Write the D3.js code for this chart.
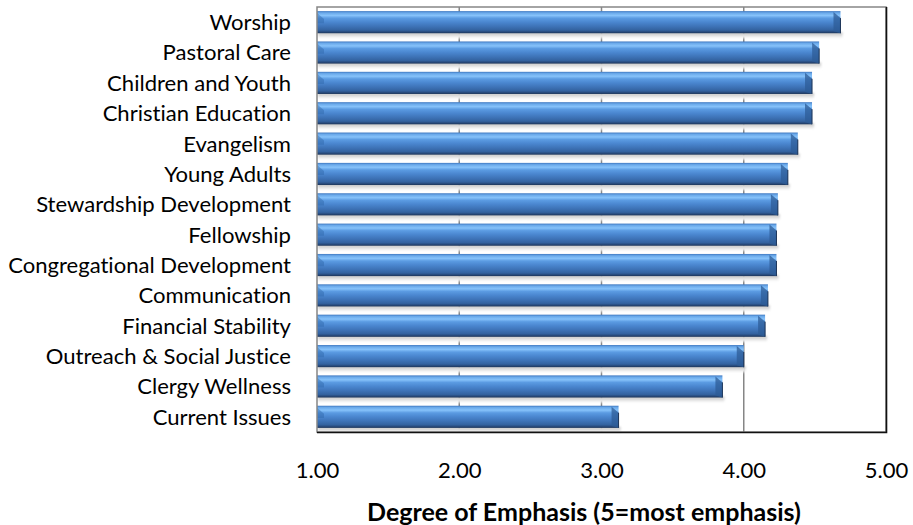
<!DOCTYPE html>
<html><head><meta charset="utf-8">
<script src="https://cdn.jsdelivr.net/npm/d3@7"></script>
<style>body{margin:0;background:#fff}svg{display:block}text{font-variant-ligatures:none;font-feature-settings:"liga" 0,"clig" 0}</style>
</head><body>
<svg id="c" width="913" height="525"></svg>
<script>
const categories = ["Worship","Pastoral Care","Children and Youth","Christian Education","Evangelism","Young Adults","Stewardship Development","Fellowship","Congregational Development","Communication","Financial Stability","Outreach & Social Justice","Clergy Wellness","Current Issues"];
const values = [4.68,4.53,4.48,4.48,4.38,4.31,4.24,4.23,4.23,4.17,4.15,4.00,3.85,3.12];
const tickValues = [1,2,3,4,5];
const axisTitle = "Degree of Emphasis (5=most emphasis)";

const svg = d3.select("#c");
const FONT = "Lato, 'Open Sans', sans-serif";
const m = {left:317, right:886, top:7, bottom:432};
const x = d3.scaleLinear().domain([1,5]).range([m.left, m.right]);
const y = d3.scaleBand().domain(categories).range([m.top, m.bottom]).paddingInner(0.27).paddingOuter(0.135);

function fit(text, target, weight){
  const t = svg.append("text").attr("font-family",FONT).attr("font-size",20).attr("font-weight",weight||"normal").text(text);
  const w = t.node().getComputedTextLength(); t.remove();
  return 20*target/w;
}
const labelSize = fit("Congregational Development", 283);
const titleSize = fit(axisTitle, 434, "bold");

const defs = svg.append("defs");
const g1 = defs.append("linearGradient").attr("id","barg").attr("x1",0).attr("y1",0).attr("x2",0).attr("y2",1);
[[0,"#3f78c0"],[0.08,"#6aa9ea"],[0.2,"#86c2fa"],[0.32,"#5b9be2"],[0.5,"#4a86cf"],[0.7,"#3d72b6"],[0.86,"#33629f"],[0.94,"#27497a"],[1,"#1d3558"]]
  .forEach(([o,c])=>g1.append("stop").attr("offset",o).attr("stop-color",c));
const sg = defs.append("linearGradient").attr("id","shg").attr("x1",0).attr("y1",0).attr("x2",0).attr("y2",1);
[[0,"#bdbdbd"],[0.5,"#dcdcdc"],[1,"#ffffff"]].forEach(([o,c])=>sg.append("stop").attr("offset",o).attr("stop-color",c));
defs.append("filter").attr("id","blur").attr("x","-5%").attr("y","-50%").attr("width","110%").attr("height","200%")
  .append("feGaussianBlur").attr("stdDeviation",1);

svg.append("g").selectAll("line").data(tickValues.slice(1,-1)).join("line")
  .attr("x1",d=>x(d)).attr("x2",d=>x(d)).attr("y1",m.top).attr("y2",m.bottom)
  .attr("stroke","#868686").attr("stroke-width",1.5);

const bars = svg.append("g").selectAll("g").data(categories.map((c,i)=>({c,v:values[i]}))).join("g");
const h = y.bandwidth();
bars.append("rect").attr("x",x(1)+1).attr("y",d=>y(d.c)+h-1).attr("width",d=>x(d.v)-x(1)+1).attr("height",6)
  .attr("fill","url(#shg)").attr("filter","url(#blur)");
bars.append("rect").attr("x",x(1)).attr("y",d=>y(d.c)).attr("width",d=>x(d.v)-x(1)).attr("height",h)
  .attr("fill","url(#barg)");
const bv = 7;
bars.append("path").attr("d",d=>{const x1=x(d.v), y0=y(d.c);
  return `M${x1-bv},${y0+1} L${x1},${y0+bv} L${x1},${y0+h} L${x1-bv},${y0+h-2} Z`;})
  .attr("fill","#2e5c97").attr("opacity",0.75);
bars.append("line").attr("x1",d=>x(d.v)).attr("x2",d=>x(d.v)).attr("y1",d=>y(d.c)+bv).attr("y2",d=>y(d.c)+h)
  .attr("stroke","#1d3558").attr("stroke-width",1);
bars.append("path").attr("d",d=>{const x0=x(1), y0=y(d.c);
  return `M${x0},${y0+2} L${x0+bv},${y0+bv+1} L${x0+bv},${y0+h*0.55} L${x0},${y0+h*0.55} Z`;})
  .attr("fill","#2f65a8").attr("opacity",0.45);

svg.append("rect").attr("x",m.left).attr("y",m.top).attr("width",m.right-m.left).attr("height",m.bottom-m.top)
  .attr("fill","none").attr("stroke","#868686").attr("stroke-width",1.5);
svg.append("path").attr("d",`M${m.right+0.5},${m.top} V${m.bottom+0.5} H${m.left}`)
  .attr("fill","none").attr("stroke","#111").attr("stroke-width",1.6);

svg.append("g").selectAll("text").data(categories).join("text")
  .attr("x",291).attr("y",d=>y(d)+h/2).attr("dy","0.36em").attr("text-anchor","end")
  .attr("font-family",FONT).attr("font-size",labelSize).attr("fill","#000").text(d=>d);

const xAxis = d3.axisBottom(x).tickValues(tickValues).tickFormat(d3.format(".2f")).tickSize(0).tickPadding(0);
const ax = svg.append("g").attr("transform",`translate(0,${470})`).call(xAxis);
ax.select(".domain").remove();
ax.selectAll("text").attr("font-family",FONT).attr("font-size",labelSize).attr("fill","#000").attr("dy","0.36em").attr("y",0);

svg.append("text").attr("x",584).attr("y",512).attr("dy","0.36em").attr("text-anchor","middle")
  .attr("font-family",FONT).attr("font-size",titleSize).attr("font-weight","bold").attr("fill","#000").text(axisTitle);
</script>
</body></html>
